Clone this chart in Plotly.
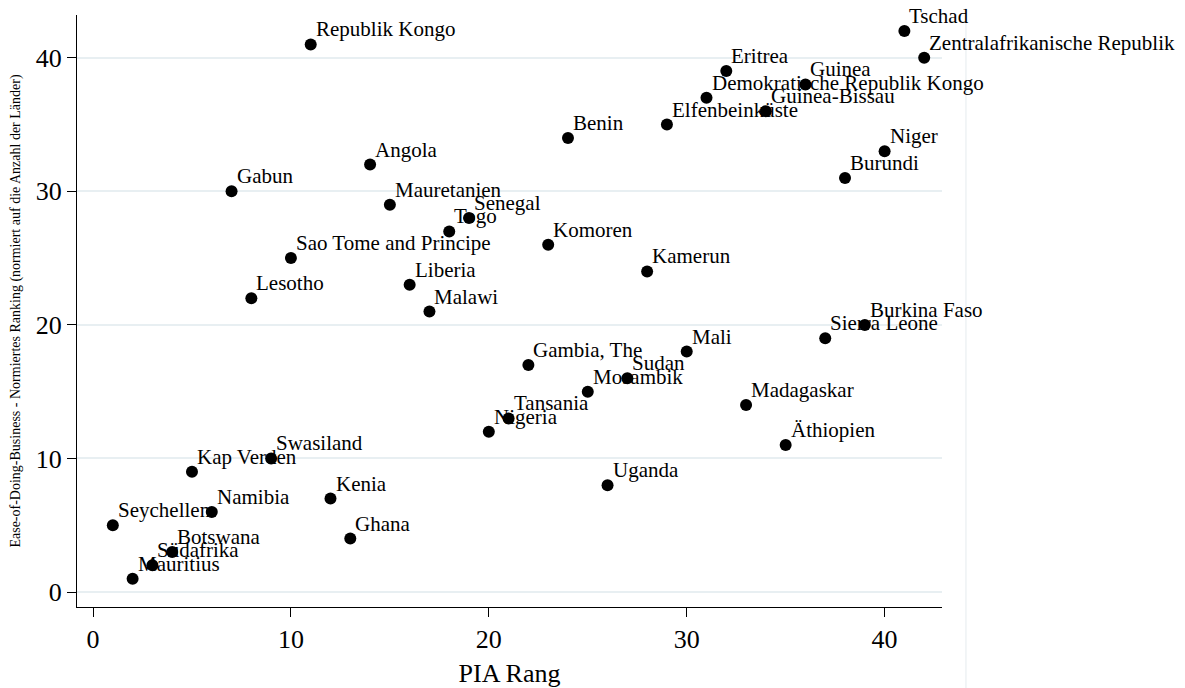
import plotly.graph_objects as go

# -------------------------------------------------------
# Daten: PIA Rang vs. normiertes Ease-of-Doing-Business Ranking
# -------------------------------------------------------
laender = [
    "Republik Kongo", "Tschad", "Zentralafrikanische Republik", "Eritrea",
    "Guinea", "Demokratische Republik Kongo", "Guinea-Bissau", "Elfenbeinküste",
    "Benin", "Niger", "Angola", "Burundi", "Gabun", "Mauretanien", "Senegal",
    "Togo", "Komoren", "Sao Tome and Principe", "Kamerun", "Liberia", "Lesotho",
    "Malawi", "Burkina Faso", "Sierra Leone", "Mali", "Gambia, The", "Sudan",
    "Mosambik", "Madagaskar", "Tansania", "Nigeria", "Äthiopien", "Swasiland",
    "Kap Verden", "Uganda", "Kenia", "Namibia", "Seychellen", "Ghana",
    "Botswana", "Südafrika", "Mauritius",
]
pia_rang = [
    11, 41, 42, 32, 36, 31, 34, 29, 24, 40, 14, 38, 7, 15, 19,
    18, 23, 10, 28, 16, 8, 17, 39, 37, 30, 22, 27, 25, 33, 21,
    20, 35, 9, 5, 26, 12, 6, 1, 13, 4, 3, 2,
]
edb_ranking = [
    41, 42, 40, 39, 38, 37, 36, 35, 34, 33, 32, 31, 30, 29, 28,
    27, 26, 25, 24, 23, 22, 21, 20, 19, 18, 17, 16, 15, 14, 13,
    12, 11, 10, 9, 8, 7, 6, 5, 4, 3, 2, 1,
]

x_ticks = [0, 10, 20, 30, 40]
y_ticks = [0, 10, 20, 30, 40]

SCHRIFT = "Liberation Serif"

fig = go.Figure()

fig.add_trace(go.Scatter(
    x=pia_rang,
    y=edb_ranking,
    mode="markers",
    marker=dict(color="black", size=12),
    showlegend=False,
    cliponaxis=False,
))

# Beschriftungen oben rechts neben den Punkten (wie mlabel in Stata)
beschriftungen = [
    dict(x=xi, y=yi, text=name, showarrow=False,
         xanchor="left", yanchor="bottom", xshift=3, yshift=1,
         font=dict(family=SCHRIFT, size=21, color="black"))
    for xi, yi, name in zip(pia_rang, edb_ranking, laender)
]

# Seite hat 8px Rand -> Figur etwas kleiner, damit sie ins Fenster passt
fig.update_layout(
    width=1177,
    height=680,
    margin=dict(l=69, r=243, t=7, b=81),
    paper_bgcolor="white",
    plot_bgcolor="white",
    font=dict(family=SCHRIFT, color="black"),
    annotations=beschriftungen,
    # feine Linie am Rand der Grafikregion
    shapes=[dict(
        type="line", xref="paper", yref="paper",
        x0=1.0277, x1=1.0277, y0=-0.14, y1=1.02,
        line=dict(color="#eef2f4", width=1.5),
    )],
)

fig.update_xaxes(
    range=[-0.81, 42.9],
    tickvals=x_ticks,
    ticks="outside", ticklen=9, tickcolor="black",
    showline=True, linecolor="black", linewidth=1,
    showgrid=False, zeroline=False, automargin=False,
    tickfont=dict(size=26),
    title=dict(text="PIA Rang", font=dict(size=26), standoff=11),
)

fig.update_yaxes(
    range=[-1.12, 43.2],
    tickvals=y_ticks,
    ticks="outside", ticklen=9, tickcolor="black",
    showline=True, linecolor="black", linewidth=1,
    showgrid=True, gridcolor="#e8eff2", gridwidth=2,
    zeroline=False, automargin=False,
    tickfont=dict(size=26),
    title=dict(
        text="Ease-of-Doing-Business - Normiertes Ranking (normiert auf die Anzahl der Länder)",
        font=dict(size=14), standoff=14,
    ),
)

fig.write_html("out.html")
